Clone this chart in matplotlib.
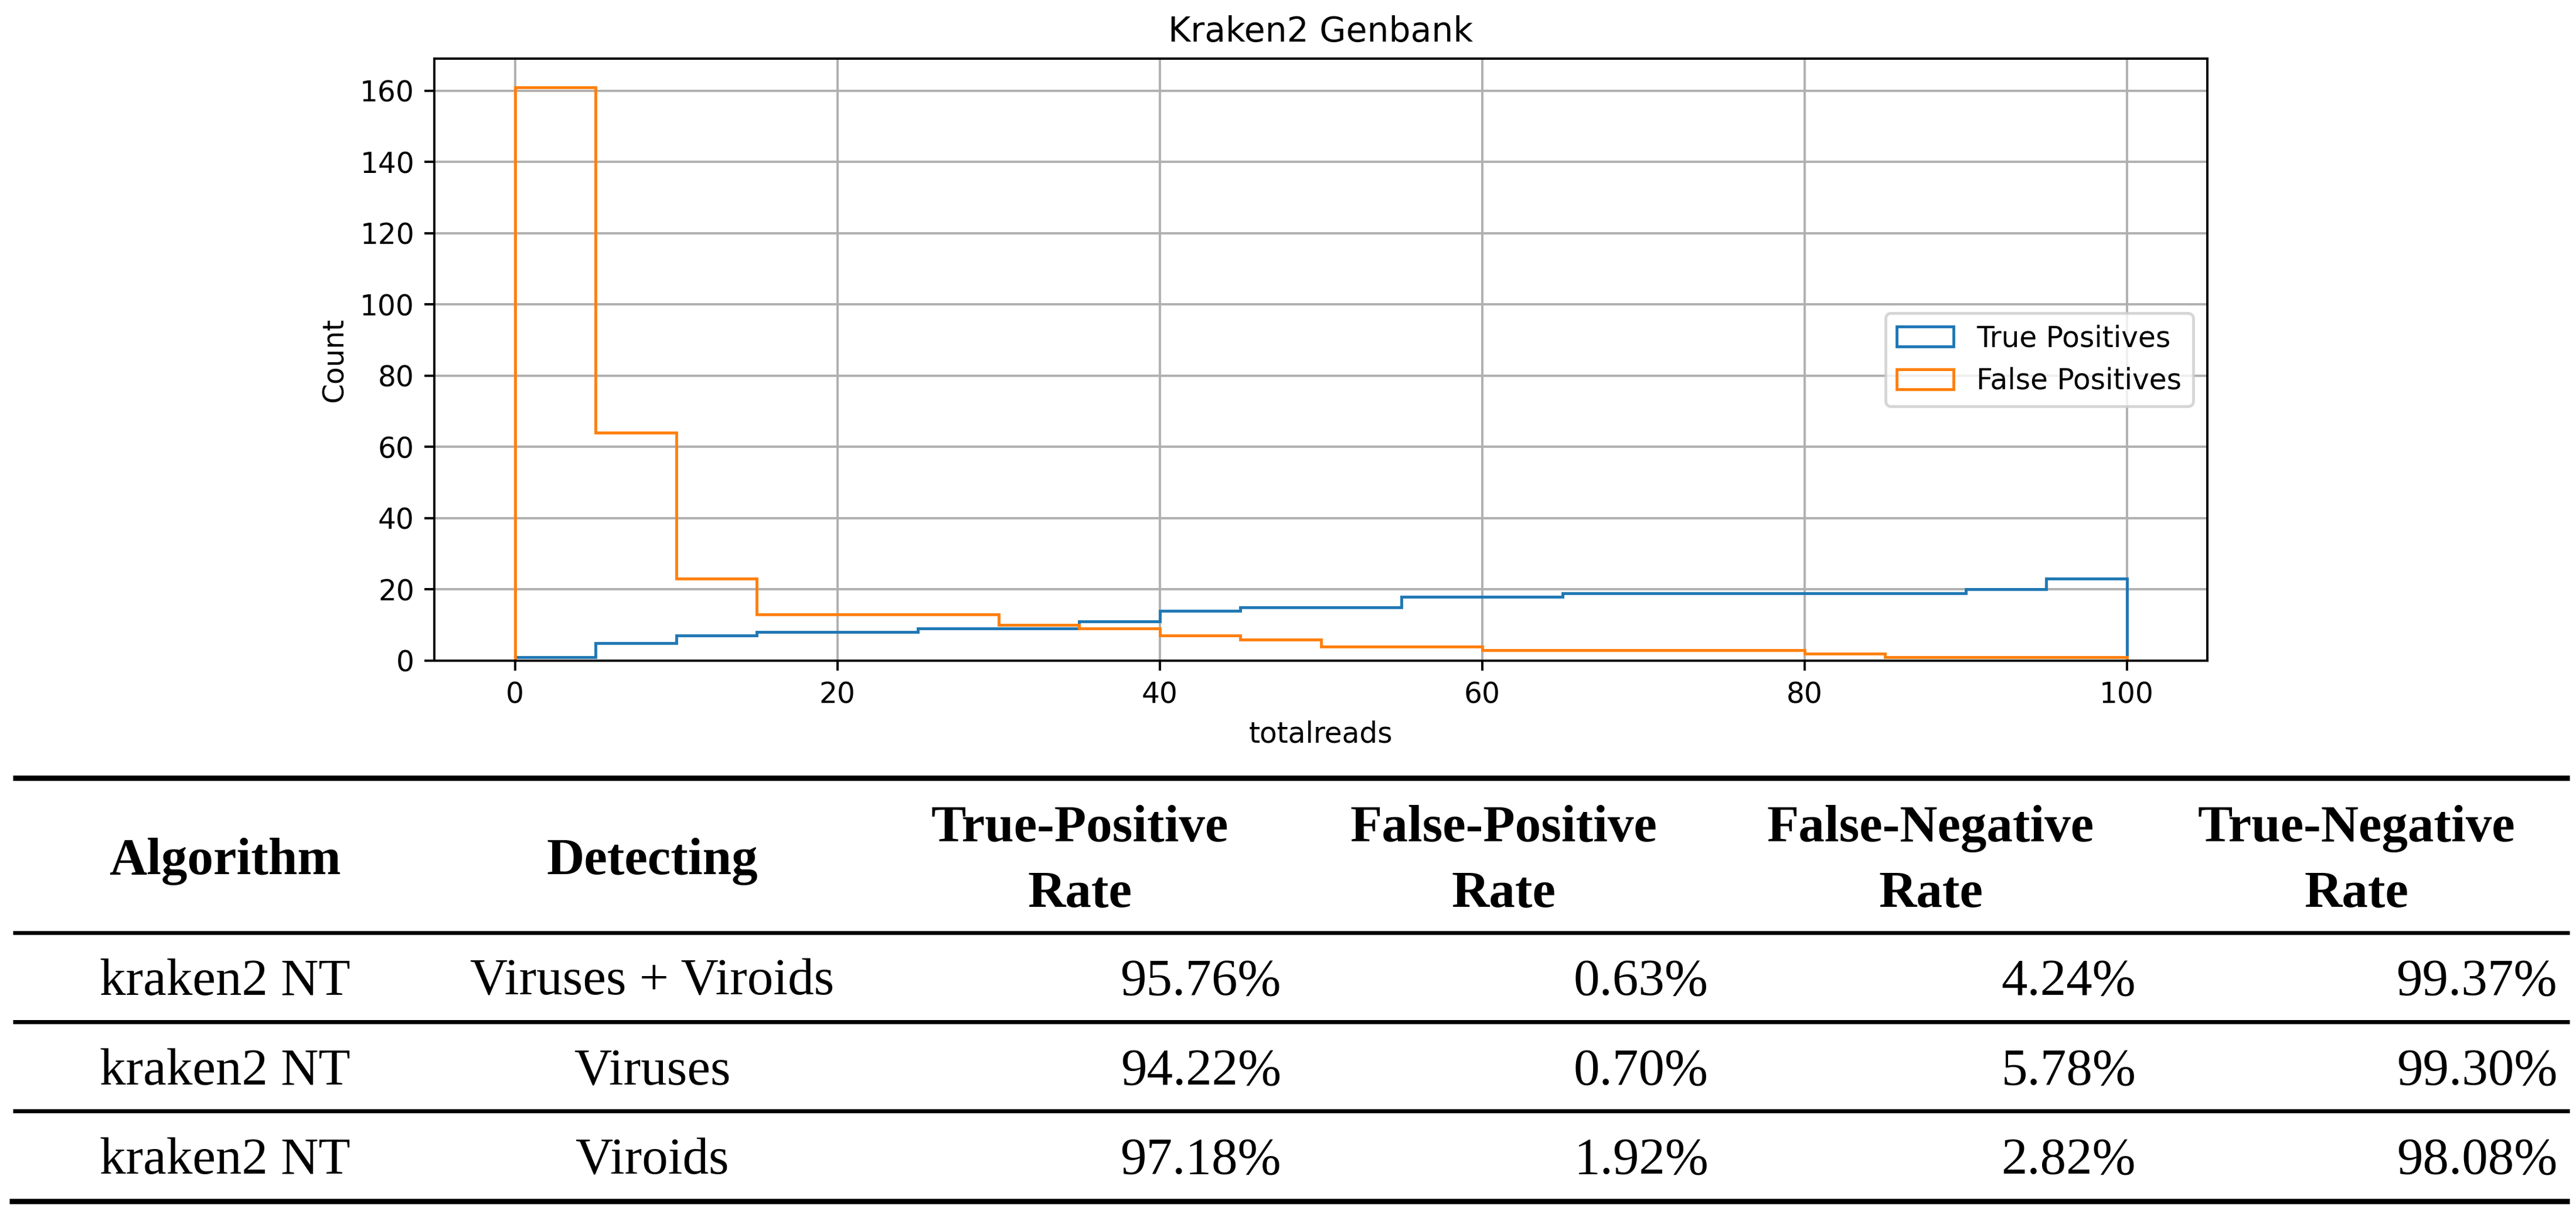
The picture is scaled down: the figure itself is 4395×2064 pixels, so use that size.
import numpy as np
import matplotlib
matplotlib.use("Agg")
import matplotlib.pyplot as plt
from matplotlib.lines import Line2D

# =========================
# DATA
# =========================
bin_edges = list(range(0, 105, 5))
true_pos = [1, 5, 7, 8, 8, 9, 9, 11, 14, 15, 15, 18, 18, 19, 19, 19, 19, 19, 20, 23]
false_pos = [161, 64, 23, 13, 13, 13, 10, 9, 7, 6, 4, 4, 3, 3, 3, 3, 2, 1, 1, 1]

header_cols = ["Algorithm", "Detecting", "True-Positive\nRate", "False-Positive\nRate",
               "False-Negative\nRate", "True-Negative\nRate"]
algorithms = ["kraken2 NT", "kraken2 NT", "kraken2 NT"]
detecting = ["Viruses + Viroids", "Viruses", "Viroids"]
tpr = ["95.76%", "94.22%", "97.18%"]
fpr = ["0.63%", "0.70%", "1.92%"]
fnr = ["4.24%", "5.78%", "2.82%"]
tnr = ["99.37%", "99.30%", "98.08%"]

# =========================
# FIGURE (pixel layout of 4395 x 2064)
# =========================
W, H = 4395, 2064
DPI = 350
fig = plt.figure(figsize=(W / DPI, H / DPI), dpi=DPI)


def fx(px):
    return px / W


def fy(py):
    return 1 - py / H


# histogram
ax = fig.add_axes([fx(741), fy(1127), fx(3766 - 741), (1127 - 100) / H])
mids = np.array(bin_edges[:-1]) + 2.5
ax.hist(mids, bins=bin_edges, weights=true_pos, histtype="step", label="True Positives")
ax.hist(mids, bins=bin_edges, weights=false_pos, histtype="step", label="False Positives")
ax.set_title("Kraken2 Genbank")
ax.set_xlabel("totalreads")
ax.set_ylabel("Count")
ax.grid(True)
ax.legend(loc="center right")

# =========================
# TABLE
# =========================
serif = "Liberation Serif"
fs = 18.3


def rule(py, lw_px, x0=22, x1=4384):
    fig.add_artist(Line2D([fx(x0), fx(x1)], [fy(py), fy(py)], color="black",
                          linewidth=lw_px * 72 / DPI, solid_capstyle="butt"))


rule(1326.5, 9)
rule(1591, 6.5)
rule(1742.5, 7)
rule(1894.5, 7)
rule(2048.5, 9, x0=16)

col_centers = [384, 1113, 1842, 2565, 3294, 4020]
value_right = [2186, 2915, 3644, 4363]

for i, h in enumerate(header_cols):
    lines = h.split("\n")
    if len(lines) == 1:
        fig.text(fx(col_centers[i]), fy(1491), lines[0], ha="center", va="baseline",
                 fontsize=fs, fontweight="bold", family=serif)
    else:
        fig.text(fx(col_centers[i]), fy(1435), lines[0], ha="center", va="baseline",
                 fontsize=fs, fontweight="bold", family=serif)
        fig.text(fx(col_centers[i]), fy(1547), lines[1], ha="center", va="baseline",
                 fontsize=fs, fontweight="bold", family=serif)

row_base = [1697, 1850, 2002]
for r in range(3):
    y = fy(row_base[r])
    fig.text(fx(col_centers[0]), y, algorithms[r], ha="center", va="baseline",
             fontsize=fs, family=serif)
    fig.text(fx(col_centers[1]), y, detecting[r], ha="center", va="baseline",
             fontsize=fs, family=serif)
    for j, vals in enumerate([tpr, fpr, fnr, tnr]):
        fig.text(fx(value_right[j]), y, vals[r], ha="right", va="baseline",
                 fontsize=fs, family=serif)

fig.savefig("out.png", dpi=DPI)
